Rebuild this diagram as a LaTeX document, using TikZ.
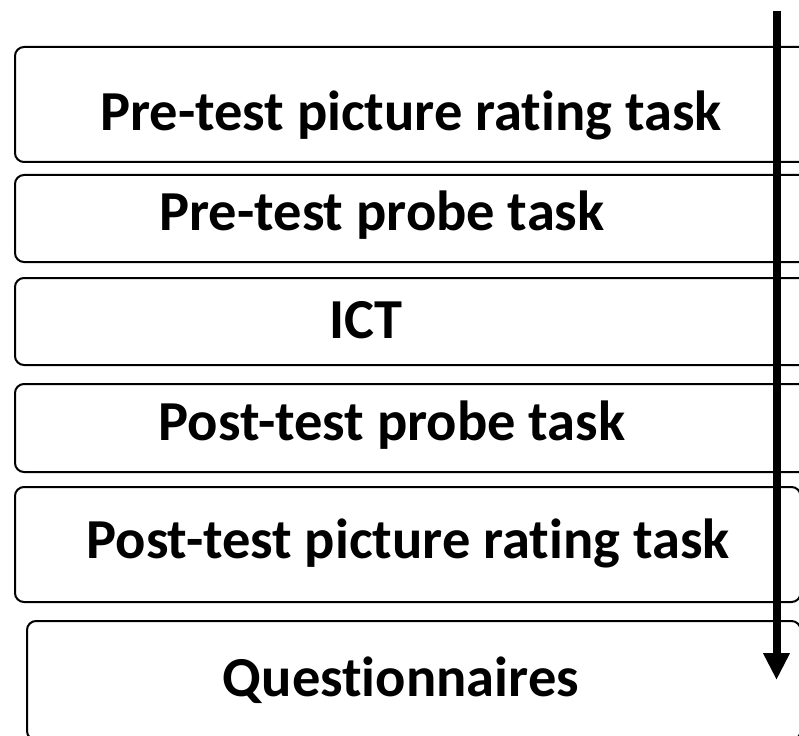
\documentclass[tikz,border=0pt]{standalone}
\usepackage{fontspec}
\setmainfont[Ligatures=NoCommon]{Carlito}
\usetikzlibrary{arrows.meta}
\tikzset{
  stage/.style={draw=black, line width=2pt, rounded corners=9pt, inner sep=0pt},
  stagetext/.style={font=\bfseries\fontsize{56.5}{68}\selectfont, anchor=base, inner sep=0pt},
  timeline/.style={line width=8pt, -{Triangle[width=25pt,length=27pt]}}
}
\begin{document}
\begin{tikzpicture}[x=1pt,y=1pt]
  \useasboundingbox (0,0) rectangle (799,-735);
  % stage boxes
  \node[stage, minimum width=815pt, minimum height=115pt] (b1) at (422.5,-104.5) {};
  \node[stage, minimum width=815pt, minimum height=87pt] (b2) at (422.5,-218.5) {};
  \node[stage, minimum width=815pt, minimum height=87pt] (b3) at (422.5,-321.5) {};
  \node[stage, minimum width=815pt, minimum height=88pt] (b4) at (422.5,-428) {};
  \node[stage, minimum width=785.5pt, minimum height=115pt] (b5) at (407.75,-544.5) {};
  \node[stage, minimum width=773.5pt, minimum height=119pt] (b6) at (413.75,-680.5) {};
  % stage labels
  \node[stagetext] (t1) at (411,-131) {Pre-test picture rating task};
  \node[stagetext] (t2) at (382,-230) {Pre-test probe task};
  \node[stagetext] (t3) at (366,-338) {ICT};
  \node[stagetext] (t4) at (392,-440) {Post-test probe task};
  \node[stagetext] (t5) at (408,-558) {Post-test picture rating task};
  \node[stagetext] (t6) at (401,-696) {Questionnaires};
  % time arrow
  \coordinate (tstart) at (776.5,-11);
  \coordinate (tend) at (776.5,-680);
  \draw[timeline] (tstart) -- (tend);
\end{tikzpicture}
\end{document}
